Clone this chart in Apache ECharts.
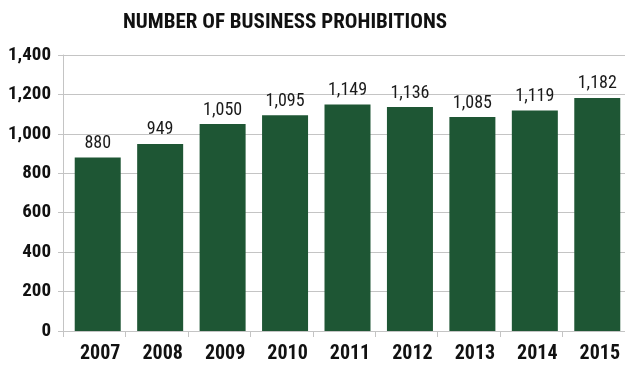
<!DOCTYPE html>
<html>
<head>
<meta charset="utf-8">
<script src="https://cdn.jsdelivr.net/npm/echarts@6/dist/echarts.min.js"></script>
<style>
  html, body { margin: 0; padding: 0; background: #ffffff; }
  #chart { width: 625px; height: 369px; }
</style>
</head>
<body>
<div id="chart"></div>
<script>
// Business prohibitions per year
const years = ['2007', '2008', '2009', '2010', '2011', '2012', '2013', '2014', '2015'];
const prohibitions = [880, 949, 1050, 1095, 1149, 1136, 1085, 1119, 1182];
const yTicks = [0, 200, 400, 600, 800, 1000, 1200, 1400];

const FONT = '"Roboto Condensed", "Open Sans Condensed", sans-serif';
const GREEN = '#1e5634';
const GRID_GRAY = '#c4c4c4';

const fmt = v => v.toLocaleString('en-US');

const chart = echarts.init(document.getElementById('chart'), null, { renderer: 'canvas' });

chart.setOption({
  animation: false,
  backgroundColor: '#ffffff',
  title: {
    text: 'NUMBER OF BUSINESS PROHIBITIONS',
    left: 118,
    top: 7,
    textStyle: { fontFamily: FONT, fontWeight: 'bold', fontSize: 21, color: '#111111' }
  },
  grid: { left: 63, top: 55, width: 566, height: 276, containLabel: false },
  xAxis: {
    type: 'category',
    data: years,
    boundaryGap: true,
    axisLine: { show: true, lineStyle: { color: GRID_GRAY, width: 1 } },
    axisTick: { show: true, length: 6, lineStyle: { color: GRID_GRAY } },
    axisLabel: {
      fontFamily: FONT, fontWeight: 'bold', fontSize: 20, color: '#111111',
      margin: 13, padding: [0, 0, 0, 12]
    }
  },
  yAxis: {
    type: 'value',
    min: yTicks[0],
    max: yTicks[yTicks.length - 1],
    interval: 200,
    axisLine: { show: true, lineStyle: { color: GRID_GRAY, width: 1 } },
    axisTick: { show: true, length: 5, lineStyle: { color: GRID_GRAY } },
    splitLine: { show: true, lineStyle: { color: GRID_GRAY, width: 1 } },
    axisLabel: {
      fontFamily: FONT, fontWeight: 'bold', fontSize: 19, color: '#111111',
      margin: 12, formatter: fmt
    }
  },
  series: [
    {
      // narrow invisible slot that nudges the visible bars to the right of centre
      type: 'bar',
      data: prohibitions,
      barWidth: 7,
      barGap: '0%',
      silent: true,
      itemStyle: { color: 'rgba(0,0,0,0)' },
      label: { show: false }
    },
    {
      type: 'bar',
      data: prohibitions,
      barWidth: 46,
      barGap: '0%',
      itemStyle: { color: GREEN },
      label: {
        show: true,
        position: 'top',
        distance: 5,
        fontFamily: FONT,
        fontSize: 18,
        color: '#1a1a1a',
        formatter: p => fmt(p.value)
      }
    }
  ]
});
</script>
</body>
</html>
